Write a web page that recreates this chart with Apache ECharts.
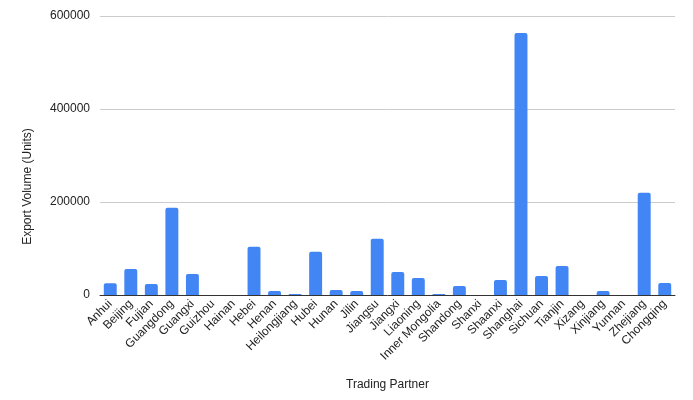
<!DOCTYPE html>
<html><head><meta charset="utf-8">
<script src="https://cdn.jsdelivr.net/npm/echarts@6/dist/echarts.min.js"></script>
<style>html,body{margin:0;padding:0;background:#fff}#c{width:693px;height:400px}</style>
</head><body><div id="c"></div>
<script>
const categories = ["Anhui","Beijing","Fujian","Guangdong","Guangxi","Guizhou","Hainan","Hebei","Henan","Heilongjiang","Hubei","Hunan","Jilin","Jiangsu","Jiangxi","Liaoning","Inner Mongolia","Shandong","Shanxi","Shaanxi","Shanghai","Sichuan","Tianjin","Xizang","Xinjiang","Yunnan","Zhejiang","Chongqing"];
const exportVolume = [25200,56100,23700,187800,45300,0,0,103600,8600,2200,92800,10800,8600,120900,49600,36700,2200,19400,0,32400,563400,41000,62600,0,8600,0,220100,25900];
const yTicks = [0,200000,400000,600000];

const chart = echarts.init(document.getElementById('c'));
chart.setOption({
  animation:false,
  textStyle:{fontFamily:'Liberation Sans, Arial, sans-serif'},
  grid:{left:100,right:18,top:16,bottom:105,containLabel:false},
  xAxis:{
    type:'category',data:categories,
    name:'Trading Partner',nameLocation:'middle',nameGap:84,
    nameTextStyle:{color:'#222',fontSize:12},
    axisLine:{lineStyle:{color:'#333'}},
    axisTick:{show:false},
    axisLabel:{rotate:45,interval:0,color:'#222',fontSize:12,margin:7}
  },
  yAxis:{
    type:'value',min:yTicks[0],max:yTicks[yTicks.length-1],interval:200000,
    name:'Export Volume (Units)',nameLocation:'middle',nameGap:66,
    nameTextStyle:{color:'#222',fontSize:12,padding:[0,62,0,0]},
    axisLine:{show:false},axisTick:{show:false},
    axisLabel:{color:'#222',fontSize:12,margin:10,formatter:v=>String(v)},
    splitLine:{lineStyle:{color:'#ccc'}}
  },
  series:[{type:'bar',data:exportVolume,barWidth:'63%',
    itemStyle:{color:'#4285f4',borderRadius:[2,2,0,0]}}]
});
</script></body></html>
